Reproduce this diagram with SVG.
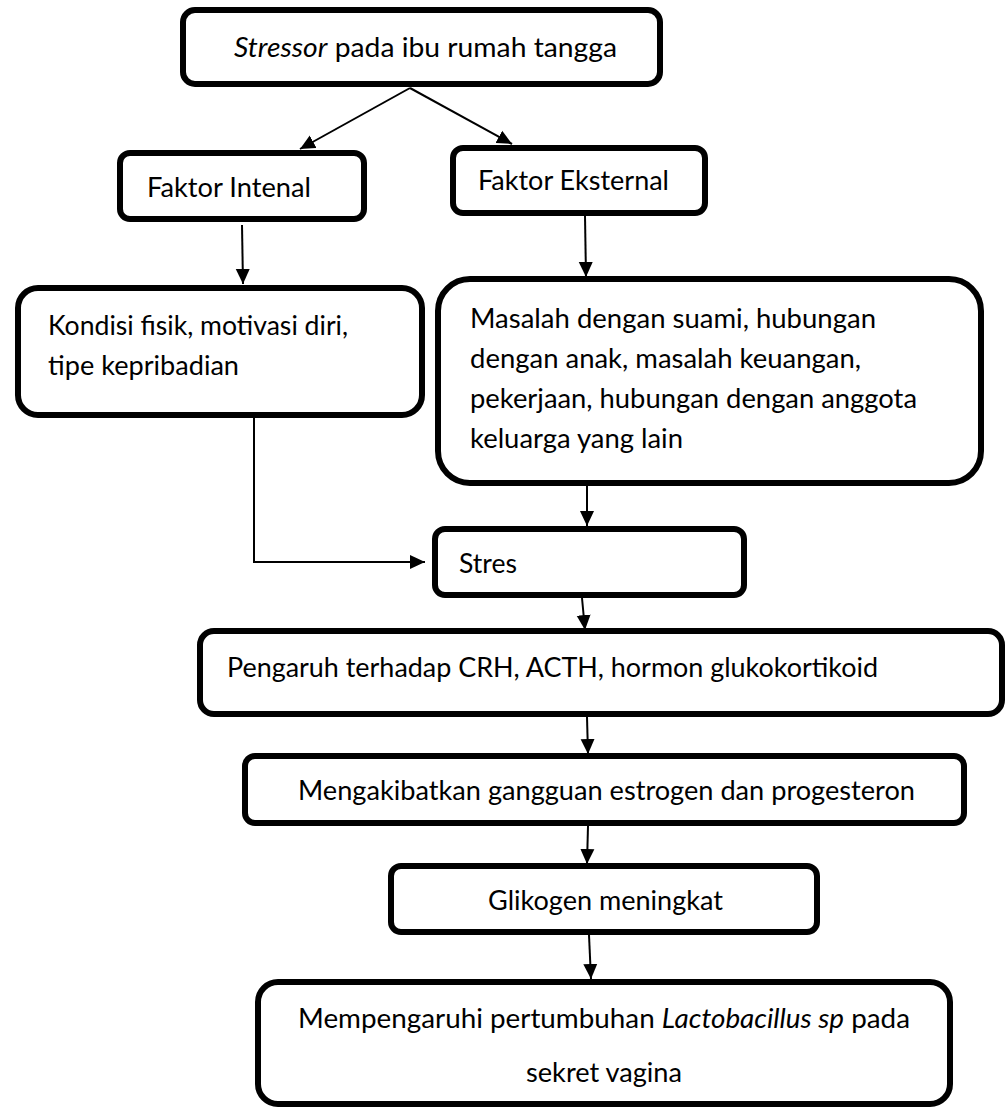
<svg xmlns="http://www.w3.org/2000/svg" width="1007" height="1110" viewBox="0 0 1007 1110">
<style>
.box{fill:#fff;stroke:#000;stroke-width:6}
.t{font-family:Lato,"Open Sans","Liberation Sans",sans-serif;font-size:27px;fill:#000}
.i{font-style:italic}
.c{stroke:#000;stroke-width:2;fill:none}
</style>
<defs>
<marker id="ah" markerWidth="15" markerHeight="15" refX="15" refY="7.5" orient="auto" markerUnits="userSpaceOnUse">
<path d="M0,0.5 L15,7.5 L0,14.5 z" fill="#000"/>
</marker>
</defs>
<rect width="1007" height="1110" fill="#fff"/>
<g id="connectors">
<line class="c" x1="410" y1="88" x2="300" y2="149" marker-end="url(#ah)"/>
<line class="c" x1="410" y1="88" x2="512" y2="144" marker-end="url(#ah)"/>
<line class="c" x1="242" y1="225" x2="243" y2="284" marker-end="url(#ah)"/>
<line class="c" x1="585" y1="216" x2="586" y2="277" marker-end="url(#ah)"/>
<polyline class="c" points="254,416 254,562 425,562" marker-end="url(#ah)"/>
<line class="c" x1="587" y1="486" x2="587" y2="526" marker-end="url(#ah)"/>
<line class="c" x1="582" y1="598" x2="585" y2="630" marker-end="url(#ah)"/>
<line class="c" x1="587" y1="717" x2="588" y2="754" marker-end="url(#ah)"/>
<line class="c" x1="588" y1="826" x2="587" y2="864" marker-end="url(#ah)"/>
<line class="c" x1="589" y1="935" x2="591" y2="979" marker-end="url(#ah)"/>
</g>
<g id="n1">
<rect class="box" x="183" y="10" width="477" height="74" rx="12"/>
<text class="t" x="234" y="57" textLength="383" lengthAdjust="spacingAndGlyphs"><tspan class="i">Stressor</tspan> pada ibu rumah tangga</text>
</g>
<g id="n2">
<rect class="box" x="120" y="153" width="244" height="66" rx="10"/>
<text class="t" x="147" y="197" textLength="164" lengthAdjust="spacingAndGlyphs">Faktor Intenal</text>
</g>
<g id="n3">
<rect class="box" x="453" y="148" width="252" height="65" rx="10"/>
<text class="t" x="478" y="190" textLength="191" lengthAdjust="spacingAndGlyphs">Faktor Eksternal</text>
</g>
<g id="n4">
<rect class="box" x="18" y="288" width="404" height="127" rx="20"/>
<text class="t" x="48" y="335" textLength="300" lengthAdjust="spacingAndGlyphs">Kondisi fisik, motivasi diri,</text>
<text class="t" x="48" y="375" textLength="191" lengthAdjust="spacingAndGlyphs">tipe kepribadian</text>
</g>
<g id="n5">
<rect class="box" x="438" y="279" width="543" height="204" rx="32"/>
<text class="t" x="470" y="328" textLength="406" lengthAdjust="spacingAndGlyphs">Masalah dengan suami, hubungan</text>
<text class="t" x="470" y="368" textLength="391" lengthAdjust="spacingAndGlyphs">dengan anak, masalah keuangan,</text>
<text class="t" x="470" y="408" textLength="447" lengthAdjust="spacingAndGlyphs">pekerjaan, hubungan dengan anggota</text>
<text class="t" x="470" y="448" textLength="213" lengthAdjust="spacingAndGlyphs">keluarga yang lain</text>
</g>
<g id="n6">
<rect class="box" x="435" y="529" width="309" height="66" rx="10"/>
<text class="t" x="459" y="573" textLength="58" lengthAdjust="spacingAndGlyphs">Stres</text>
</g>
<g id="n7">
<rect class="box" x="200" y="631" width="802" height="83" rx="14"/>
<text class="t" x="227" y="677" textLength="651" lengthAdjust="spacingAndGlyphs">Pengaruh terhadap CRH, ACTH, hormon glukokortikoid</text>
</g>
<g id="n8">
<rect class="box" x="245" y="756" width="719" height="67" rx="10"/>
<text class="t" x="298" y="800" textLength="617" lengthAdjust="spacingAndGlyphs">Mengakibatkan gangguan estrogen dan progesteron</text>
</g>
<g id="n9">
<rect class="box" x="391" y="866" width="426" height="66" rx="10"/>
<text class="t" x="488" y="910" textLength="235" lengthAdjust="spacingAndGlyphs">Glikogen meningkat</text>
</g>
<g id="n10">
<rect class="box" x="258" y="982" width="692" height="122" rx="20"/>
<text class="t" x="298" y="1028" textLength="612" lengthAdjust="spacingAndGlyphs">Mempengaruhi pertumbuhan <tspan class="i">Lactobacillus sp</tspan> pada</text>
<text class="t" x="526" y="1082" textLength="156" lengthAdjust="spacingAndGlyphs">sekret vagina</text>
</g>
</svg>
